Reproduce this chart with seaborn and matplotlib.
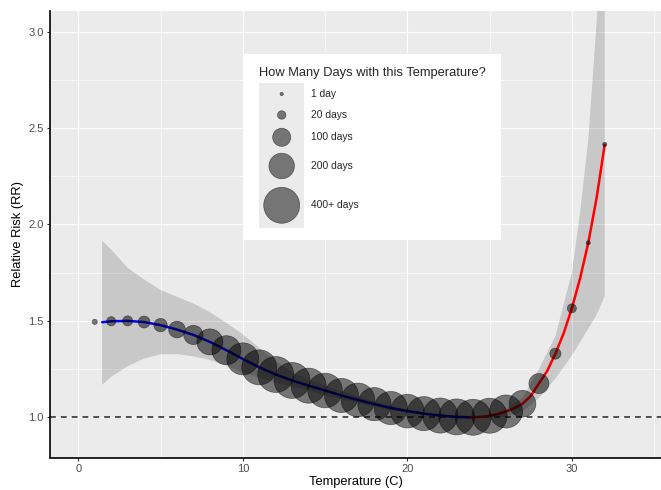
import matplotlib
matplotlib.use("Agg")
import matplotlib.pyplot as plt
from matplotlib.patches import Rectangle
from matplotlib.ticker import MultipleLocator
import pandas as pd
import seaborn as sns

# one point per temperature: relative risk and how many days had it
temp = list(range(1, 33))
rr = [1.495, 1.498, 1.500, 1.494, 1.478, 1.455, 1.427, 1.391, 1.348, 1.303,
      1.259, 1.222, 1.191, 1.164, 1.139, 1.113, 1.090, 1.068, 1.048, 1.032,
      1.019, 1.009, 1.002, 1.000, 1.008, 1.030, 1.070, 1.175, 1.330, 1.565,
      1.905, 2.415]
days = [6, 24, 29, 42, 53, 84, 113, 208, 259, 316,
        378, 400, 400, 380, 370, 360, 350, 340, 340, 350,
        360, 380, 400, 400, 380, 336, 220, 122, 36, 23,
        3, 3]

# fitted exposure-response curve, cold side (blue) and heat side (red)
cold_temp = [1.45, 2, 3, 4, 5, 6, 7, 8, 9, 10, 11, 12, 13, 14, 15, 16, 17,
             18, 19, 20, 21, 22, 23, 23.8]
cold_rr = [1.493, 1.498, 1.500, 1.494, 1.478, 1.455, 1.427, 1.391, 1.348,
           1.303, 1.259, 1.222, 1.191, 1.164, 1.139, 1.113, 1.090, 1.068,
           1.048, 1.032, 1.019, 1.009, 1.002, 1.000]
heat_temp = [23.8, 24.5, 25, 25.5, 26, 26.5, 27, 27.5, 28, 28.5, 29, 29.5,
             30, 30.5, 31, 31.5, 32]
heat_rr = [1.000, 1.002, 1.008, 1.016, 1.030, 1.047, 1.070, 1.110, 1.175,
           1.240, 1.330, 1.435, 1.565, 1.720, 1.905, 2.135, 2.415]

# 95% confidence band
ci_temp = [1.45, 2, 3, 4, 5, 6, 7, 8, 9, 10, 11, 12, 13, 14, 15, 16, 17, 18,
           19, 20, 21, 22, 23, 23.8, 24.5, 25, 26, 27, 28, 29, 30, 30.5, 31,
           31.5, 32]
ci_low = [1.168, 1.210, 1.265, 1.305, 1.327, 1.328, 1.316, 1.297, 1.267,
          1.232, 1.205, 1.180, 1.160, 1.140, 1.115, 1.093, 1.073, 1.055,
          1.038, 1.025, 1.013, 1.005, 1.001, 1.000, 0.998, 0.998, 1.005,
          1.030, 1.100, 1.200, 1.320, 1.390, 1.460, 1.530, 1.630]
ci_high = [1.916, 1.870, 1.775, 1.715, 1.660, 1.625, 1.590, 1.545, 1.490,
           1.430, 1.360, 1.290, 1.235, 1.195, 1.165, 1.135, 1.108, 1.082,
           1.060, 1.040, 1.025, 1.013, 1.005, 1.000, 1.006, 1.013, 1.045,
           1.100, 1.250, 1.420, 1.750, 2.060, 2.440, 3.040, 3.900]

legend_days = [1, 20, 100, 200, 400]
legend_labels = ["1 day", "20 days", "100 days", "200 days", "400+ days"]

S_MIN, S_MAX = 5.6, 671


def marker_area(n):
    return S_MIN + (n - 1) / 399 * (S_MAX - S_MIN)


W, H = 661, 490


def px_rect(x0, y0, x1, y1):
    return [x0 / W, 1 - y1 / H, (x1 - x0) / W, (y1 - y0) / H]


sns.set_style("darkgrid", {"axes.facecolor": "#EBEBEB", "grid.color": "white"})
plt.rcParams["font.family"] = ["Liberation Sans", "DejaVu Sans"]

fig = plt.figure(figsize=(W / 100, H / 100), dpi=100)
ax = fig.add_axes(px_rect(50, 11, 661, 457.5))

pts = pd.DataFrame({"temp": temp, "rr": rr, "days": days})
cold = pd.DataFrame({"temp": cold_temp, "rr": cold_rr})
heat = pd.DataFrame({"temp": heat_temp, "rr": heat_rr})

ax.fill_between(ci_temp, ci_low, ci_high, color="black", alpha=0.15,
                linewidth=0, zorder=2)
ax.axhline(1, color="#333333", lw=1.2, ls=(0, (3.5, 3)), zorder=2.5)
sns.lineplot(data=cold, x="temp", y="rr", color="#0000FF", lw=1.8,
             sort=False, ax=ax, zorder=3)
sns.lineplot(data=heat, x="temp", y="rr", color="#FF0000", lw=1.8,
             sort=False, ax=ax, zorder=3)
sns.scatterplot(data=pts, x="temp", y="rr", size="days",
                sizes=(S_MIN, S_MAX), size_norm=(1, 400), color="black",
                alpha=0.5, edgecolor="black", linewidth=0.5, legend=False,
                ax=ax, zorder=4)

ax.set_xlim(-1.72, 35.42)
ax.set_ylim(0.7914, 3.1074)
ax.xaxis.set_major_locator(MultipleLocator(10))
ax.xaxis.set_minor_locator(MultipleLocator(5))
ax.yaxis.set_major_locator(MultipleLocator(0.5))
ax.yaxis.set_minor_locator(MultipleLocator(0.25))
ax.yaxis.set_major_formatter(matplotlib.ticker.FormatStrFormatter("%.1f"))
ax.grid(which="major", color="white", lw=0.8)
ax.grid(which="minor", color="white", lw=0.4)
ax.set_axisbelow(True)
ax.tick_params(which="major", length=2.4, width=0.8, color="#333333",
               labelcolor="#4D4D4D", labelsize=8, pad=2)
ax.tick_params(which="minor", length=0)
ax.tick_params(axis="x", which="both", bottom=True)
ax.tick_params(axis="y", which="both", left=True)
for side in ["top", "right"]:
    ax.spines[side].set_visible(False)
for side in ["left", "bottom"]:
    ax.spines[side].set_visible(True)
    ax.spines[side].set_color("black")
    ax.spines[side].set_linewidth(1.2)
ax.set_xlabel("Temperature (C)", fontsize=9.3, color="black", labelpad=2)
ax.set_ylabel("Relative Risk (RR)", fontsize=9.3, color="black", labelpad=3)

# legend box drawn in pixel coordinates
leg = fig.add_axes(px_rect(243, 54, 501, 240))
leg.set_xlim(243, 501)
leg.set_ylim(240, 54)
leg.axis("off")
leg.add_patch(Rectangle((243, 54), 258, 186, facecolor="white",
                        edgecolor="none"))
leg.add_patch(Rectangle((259, 83.3), 45.3, 145, facecolor="#EBEBEB",
                        edgecolor="none"))
leg.text(259.3, 72.7, "How Many Days with this Temperature?", fontsize=9.3,
         ha="left", va="center")
key_y = [94, 115, 137.3, 166, 205.3]
leg.scatter([281.7] * len(legend_days), key_y,
            s=[marker_area(n) for n in legend_days], color="black", alpha=0.5,
            edgecolor="black", linewidth=0.5, zorder=3)
for y, lab in zip(key_y, legend_labels):
    leg.text(311, y, lab, fontsize=7.4, ha="left", va="center")

fig.savefig("out.png", dpi=100)
